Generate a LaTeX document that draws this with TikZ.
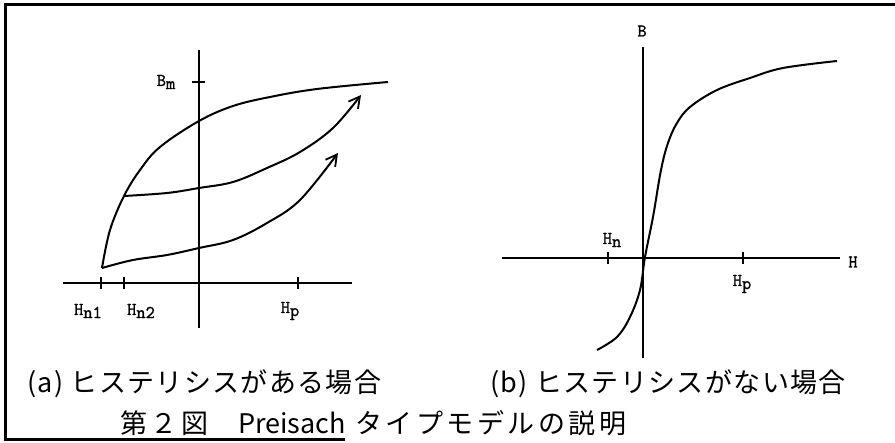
\documentclass[tikz,border=0pt]{standalone}
\usepackage{fontspec}
\newfontfamily\jpfont[LetterSpace=5]{Noto Sans CJK JP}
\newfontfamily\jpttl[LetterSpace=13]{Noto Sans CJK JP}
\newfontfamily\jplat{Noto Sans CJK JP}
\newfontfamily\lblfont[FakeBold=1.2]{Latin Modern Mono}
\usetikzlibrary{arrows.meta}
\newcommand{\hsub}[2]{#1\raisebox{-0.4ex}{#2}}
\tikzset{
  axs/.style={line width=2pt},
  crv/.style={line width=2pt},
  arcrv/.style={crv,-{Straight Barb[length=11pt,width=12pt,line width=1.8pt]}},
  tck/.style={line width=2pt},
  lbl/.style={font=\fontsize{18}{20}\selectfont\lblfont,inner sep=0pt},
  captxt/.style={font=\fontsize{27}{30}\selectfont\jpfont,inner sep=0pt,anchor=west}
}
\begin{document}
\begin{tikzpicture}[x=1pt,y=-1pt]
  \useasboundingbox (0,0) rectangle (895,443);
  % frame
  \draw[line width=3pt] (895,5) -- (5,5) -- (5,440) -- (345,440);

  % (a) axes
  \coordinate (oa) at (199,283);
  \draw[axs] (63,283) -- (352,283);
  \draw[axs] (199,50) -- (199,328);
  \foreach \x/\nm in {101/hn1,124/hn2,298/hp}
    \draw[tck] (\x,277) -- (\x,289) coordinate (\nm);
  \draw[tck] (192,82) -- (205,82);
  \node[lbl] (bm) at (166,82) {\hsub{B}{m}};
  \node[lbl] (lhn1) at (88,311) {\hsub{H}{n1}};
  \node[lbl] (lhn2) at (141,311) {\hsub{H}{n2}};
  \node[lbl] (lhp) at (290,311) {\hsub{H}{p}};

  % (a) curves
  \coordinate (n1) at (102,268);
  \coordinate (n2) at (124,196);
  \draw[crv] plot[smooth,tension=0.6] coordinates {(102,268) (110,230) (124,196) (140,170) (160,147) (199,121) (233,106) (270,97) (317,89) (388,82)};
  \draw[arcrv] plot[smooth,tension=0.6] coordinates {(102,268) (133,260) (167,255) (199,248) (233,240) (267,223) (300,200) (338,153)};
  \draw[arcrv] plot[smooth,tension=0.6] coordinates {(124,196) (167,193) (199,188) (233,182) (267,168) (300,152) (333,128) (361,95)};

  % (b) axes
  \coordinate (ob) at (643,258);
  \draw[axs] (502,258) -- (840,258);
  \draw[axs] (643,47) -- (643,358);
  \draw[tck] (608,252) -- (608,264);
  \draw[tck] (743,252) -- (743,264);
  \node[lbl] (lb) at (642,31) {B};
  \node[lbl] (lh) at (853,262) {H};
  \node[lbl] (lhn) at (612,240) {\hsub{H}{n}};
  \node[lbl] (lhpb) at (742,284) {\hsub{H}{p}};

  % (b) curve
  \draw[crv] plot[smooth,tension=0.6] coordinates {(597,350) (617,337) (630,317) (640,290) (645,257) (653,217) (661,170) (668,143) (677,123) (690,107) (717,90) (750,78) (783,68) (837,61)};

  % captions
  \node[captxt] (capa) at (27,384) {(a) ヒステリシスがある場合};
  \node[captxt] (capb) at (490,384) {(b) ヒステリシスがない場合};
  \node[captxt,font=\fontsize{27}{30}\selectfont\jpttl] (ttl) at (120,423) {第２図\hspace{30pt}{\jplat Preisach} タイプモデルの説明};
\end{tikzpicture}
\end{document}
